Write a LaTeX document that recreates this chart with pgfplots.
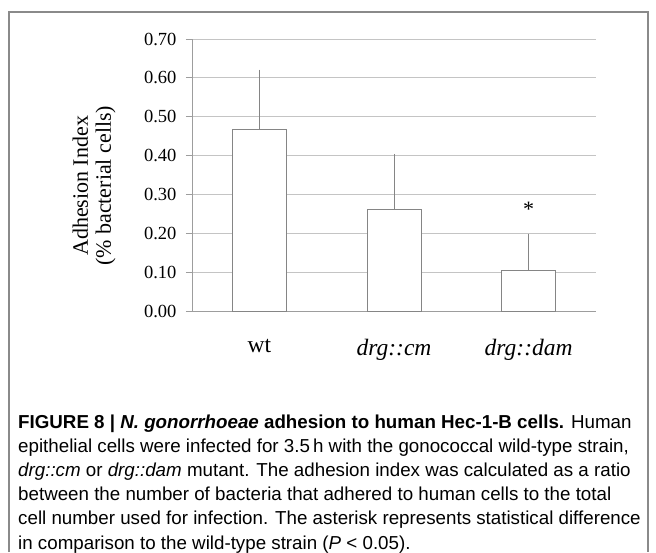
\documentclass[border=0pt]{standalone}
\usepackage{pgfplots}
\pgfplotsset{compat=1.18}
\usepackage{fontspec}
\setmainfont{Liberation Serif}
\newfontfamily\capfont{Liberation Sans}
\definecolor{framegray}{HTML}{8A8A8A}
\definecolor{gridgray}{HTML}{C4C4C4}
\definecolor{bargray}{HTML}{858585}
\begin{document}
\begin{tikzpicture}
\useasboundingbox (0pt,0pt) rectangle (656pt,-552pt);
\draw[framegray, line width=1.6pt] (9pt,-552pt) -- (9pt,-12pt) -- (648pt,-12pt) -- (648pt,-552pt);
\begin{axis}[
  at={(192pt,-311pt)}, anchor=south west,
  scale only axis, width=404pt, height=272pt,
  xmin=-0.5, xmax=2.5, ymin=0, ymax=0.7,
  axis x line*=bottom, axis y line*=left,
  axis line style={gridgray!80!black, line width=0.8pt},
  ytick={0,0.1,0.2,0.3,0.4,0.5,0.6,0.7},
  yticklabel style={font=\fontsize{18.5}{18.5}\selectfont, xshift=-6pt, /pgf/number format/.cd, fixed, fixed zerofill, precision=2, assume math mode=true},
  ymajorgrids, grid style={gridgray, line width=0.9pt},
  tick align=outside, major tick length=6pt,
  ytick style={gridgray!80!black, line width=0.8pt},
  xtick=data, xticklabels={wt, \textit{drg::cm}, \textit{drg::dam}},
  xtick style={draw=none},
  xticklabel style={font=\fontsize{23.5}{23.5}\selectfont, yshift=-19pt},
  ylabel={Adhesion Index\\(\% bacterial cells)},
  ylabel style={font=\fontsize{22}{23}\selectfont, align=center, at={(axis description cs:-0.2426,0.46)}, anchor=center},
  clip=false,
]
\addplot[ybar, bar width=54pt, fill=white, draw=bargray, line width=0.9pt,
  error bars/.cd, y dir=plus, y explicit,
  error bar style={bargray, line width=0.9pt},
  error mark options={bargray, mark size=1.2pt, line width=0.8pt}]
  coordinates {(0,0.468) +- (0,0.150) (1,0.262) +- (0,0.139) (2,0.104) +- (0,0.092)};
\node[font=\fontsize{22}{22}\selectfont] at (axis cs:2,0.262) {*};
\end{axis}
\begin{scope}[every node/.style={anchor=base west, inner sep=0pt, font=\capfont\fontsize{18.75}{22}\selectfont}]
\node at (18pt,-428pt) {\textbf{FIGURE 8 | \textit{N. gonorrhoeae} adhesion to human Hec-1-B cells.} Human};
\node at (18pt,-452.2pt) {epithelial cells were infected for 3.5\,h with the gonococcal wild-type strain,};
\node at (18pt,-476.4pt) {\textit{drg::cm} or \textit{drg::dam} mutant. The adhesion index was calculated as a ratio};
\node at (18pt,-500.6pt) {between the number of bacteria that adhered to human cells to the total};
\node at (18pt,-524.8pt) {cell number used for infection. The asterisk represents statistical difference};
\node at (18pt,-549pt) {in comparison to the wild-type strain (\textit{P} < 0.05).};
\end{scope}
\end{tikzpicture}
\end{document}
